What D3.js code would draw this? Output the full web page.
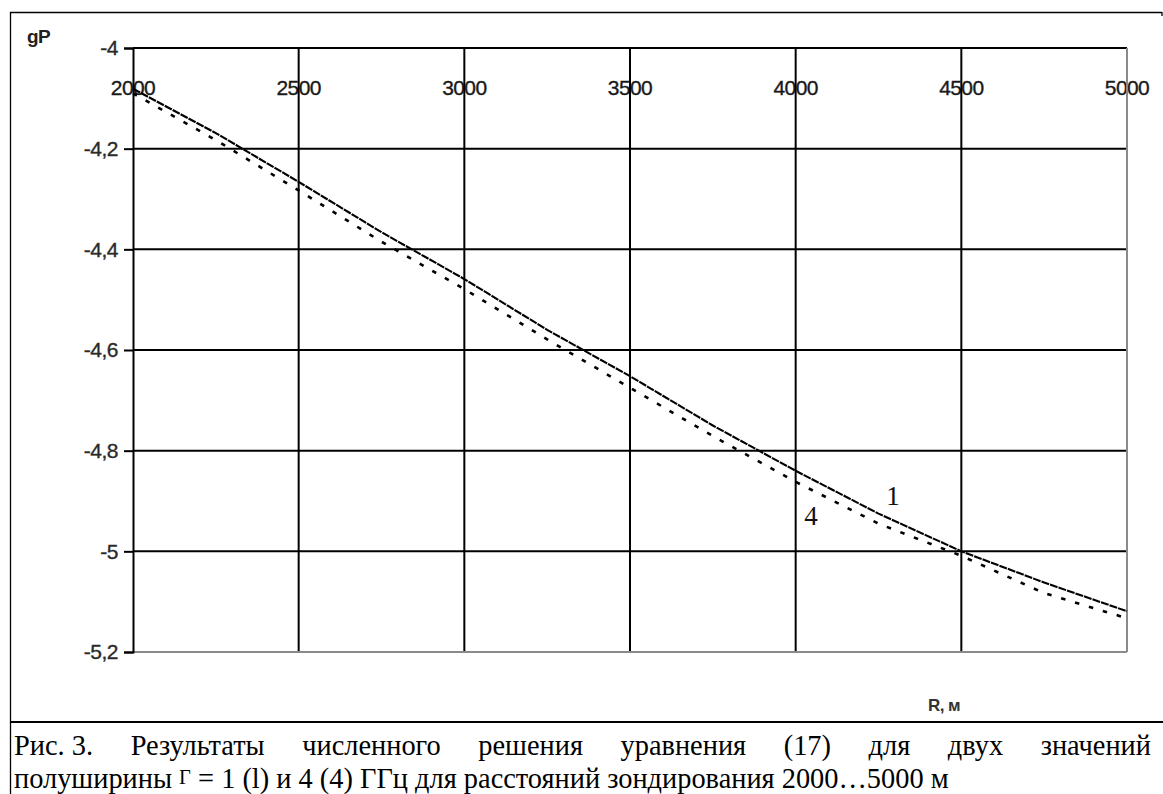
<!DOCTYPE html>
<html>
<head>
<meta charset="utf-8">
<script src="https://cdn.jsdelivr.net/npm/d3@7"></script>
<style>
  html, body { margin: 0; padding: 0; background: #fff; }
  svg { display: block; }
</style>
</head>
<body>
<svg id="chart" width="1163" height="794"></svg>
<script>
// ---- data ----
const distances = [2000, 2250, 2500, 2750, 3000, 3250, 3500, 3750, 4000, 4250, 4500, 4750, 5000];
const lgP_gamma1 = [-4.081, -4.169, -4.266, -4.366, -4.459, -4.560, -4.652, -4.750, -4.840, -4.925, -5.000, -5.062, -5.119];
const lgP_gamma4 = [-4.085, -4.178, -4.278, -4.380, -4.474, -4.574, -4.670, -4.766, -4.857, -4.940, -5.004, -5.078, -5.128];
const xTicks = [2000, 2500, 3000, 3500, 4000, 4500, 5000];
const xTickLabels = ["2000", "2500", "3000", "3500", "4000", "4500", "5000"];
const yTicks = [-4, -4.2, -4.4, -4.6, -4.8, -5, -5.2];
const yTickLabels = ["-4", "-4,2", "-4,4", "-4,6", "-4,8", "-5", "-5,2"];
const seriesLabels = ["1", "4"];
const yTitle = "gP";
const xTitle = "R, м";
const captionLine1 = ["Рис. 3.", "Результаты", "численного", "решения", "уравнения", "(17)", "для", "двух", "значений"];

(function () {
// ---- layout ----
const svg = d3.select("#chart");
const pL = 133, pR = 1127, pT = 48, pB = 652;
const x = d3.scaleLinear().domain([2000, 5000]).range([pL, pR]);
const y = d3.scaleLinear().domain([-4, -5.2]).range([pT, pB]);
const sans = "Arial, 'Liberation Sans', sans-serif";

// outer frame
svg.append("line").attr("x1", 10).attr("x2", 1162).attr("y1", 12.5).attr("y2", 12.5).attr("stroke", "#000").attr("stroke-width", 1.3);
svg.append("line").attr("x1", 1162).attr("x2", 1162).attr("y1", 12).attr("y2", 16).attr("stroke", "#000").attr("stroke-width", 1.3);
svg.append("line").attr("x1", 10.5).attr("x2", 10.5).attr("y1", 12).attr("y2", 794).attr("stroke", "#000").attr("stroke-width", 1.3);
svg.append("line").attr("x1", 10).attr("x2", 1163).attr("y1", 722).attr("y2", 722).attr("stroke", "#000").attr("stroke-width", 2.2);

// x tick labels (inside plot, under grid)
svg.append("g").selectAll("text").data(xTicks).join("text")
  .attr("x", d => x(d)).attr("y", 87).attr("dy", "0.36em")
  .attr("text-anchor", "middle")
  .attr("font-family", sans)
  .attr("font-size", 21).attr("letter-spacing", -0.6)
  .attr("fill", "#1a1a1a").attr("stroke", "#1a1a1a").attr("stroke-width", 0.35)
  .text((d, i) => xTickLabels[i]);

// grid
const grid = svg.append("g");
grid.selectAll("line.v").data(xTicks.slice(1, -1)).join("line")
  .attr("x1", d => x(d)).attr("x2", d => x(d)).attr("y1", pT).attr("y2", pB)
  .attr("stroke", "#000").attr("stroke-width", 2);
grid.selectAll("line.h").data(yTicks.slice(1, -1)).join("line")
  .attr("x1", pL).attr("x2", pR).attr("y1", d => y(d)).attr("y2", d => y(d))
  .attr("stroke", "#000").attr("stroke-width", 2);
// plot border
svg.append("line").attr("x1", pL).attr("x2", pR).attr("y1", pT).attr("y2", pT).attr("stroke", "#000").attr("stroke-width", 2);
svg.append("line").attr("x1", pR).attr("x2", pR).attr("y1", pT).attr("y2", pB).attr("stroke", "#8a8a8a").attr("stroke-width", 2);
svg.append("line").attr("x1", pL).attr("x2", pR).attr("y1", pB).attr("y2", pB).attr("stroke", "#8a8a8a").attr("stroke-width", 2);

// y axis
const yAxis = d3.axisLeft(y).tickValues(yTicks).tickSize(9).tickPadding(6)
  .tickFormat((d, i) => yTickLabels[i]);
const ya = svg.append("g").attr("transform", `translate(${pL},0)`).call(yAxis);
ya.select(".domain").attr("stroke", "#000").attr("stroke-width", 2);
ya.selectAll(".tick line").attr("stroke", "#000").attr("stroke-width", 2);
ya.selectAll(".tick text")
  .attr("font-family", sans)
  .attr("font-size", 21).attr("letter-spacing", -0.5)
  .attr("fill", "#2a2a2a").attr("stroke", "#2a2a2a").attr("stroke-width", 0.35);

// axis titles
svg.append("text").attr("x", 27).attr("y", 43)
  .attr("font-family", sans).attr("font-weight", "bold")
  .attr("font-size", 19).attr("letter-spacing", -0.6).attr("fill", "#222").text(yTitle);
svg.append("text").attr("x", 944).attr("y", 711).attr("text-anchor", "middle")
  .attr("font-family", sans).attr("font-weight", "bold")
  .attr("font-size", 17).attr("letter-spacing", -0.6).attr("fill", "#333").text(xTitle);

// series
const line = d3.line().x((d, i) => x(distances[i])).y(d => y(d));
svg.append("path").datum(lgP_gamma1).attr("d", line)
  .attr("fill", "none").attr("stroke", "#000").attr("stroke-width", 2.1)
  .attr("stroke-dasharray", "8,1");
svg.append("path").datum(lgP_gamma4).attr("d", line)
  .attr("fill", "none").attr("stroke", "#000").attr("stroke-width", 2.6)
  .attr("stroke-dasharray", "4.5,10").attr("transform", "translate(0,2.5)");

// series labels
svg.append("text").attr("x", 893).attr("y", 505).attr("text-anchor", "middle")
  .attr("font-family", "'Liberation Serif', 'Times New Roman', serif").attr("font-size", 27)
  .attr("fill", "#111").text(seriesLabels[0]);
svg.append("text").attr("x", 811).attr("y", 525).attr("text-anchor", "middle")
  .attr("font-family", "'Liberation Serif', 'Times New Roman', serif").attr("font-size", 27)
  .attr("fill", "#111").text(seriesLabels[1]);

// caption
const capFont = "'Liberation Serif', 'Times New Roman', serif";
const capX0 = 14, capX1 = 1151, line2End = 950;
const t2 = svg.append("text").attr("x", capX0).attr("y", 788)
  .attr("font-family", capFont).attr("font-size", 25).attr("fill", "#000");
t2.append("tspan").text("полуширины ");
const sG = t2.append("tspan").attr("dy", -4).attr("font-size", 19).text("Γ");
t2.append("tspan").attr("dy", 4).text(" = 1 (l) и 4 (4) ГГц для расстояний зондирования 2000…5000 м");
const w25 = t2.node().getComputedTextLength();
const capSize = 25 * (line2End - capX0) / w25;
t2.attr("font-size", capSize);
sG.attr("font-size", capSize * 0.72);

const words = svg.append("g").selectAll("text").data(captionLine1).join("text")
  .attr("y", 755).attr("font-family", capFont).attr("font-size", capSize).attr("fill", "#000")
  .text(d => d);
const widths = [];
words.each(function () { widths.push(this.getComputedTextLength()); });
const gap = (capX1 - capX0 - d3.sum(widths)) / (captionLine1.length - 1);
let cx = capX0;
words.each(function (d, i) { d3.select(this).attr("x", cx); cx += widths[i] + gap; });
})();
</script>
</body>
</html>
